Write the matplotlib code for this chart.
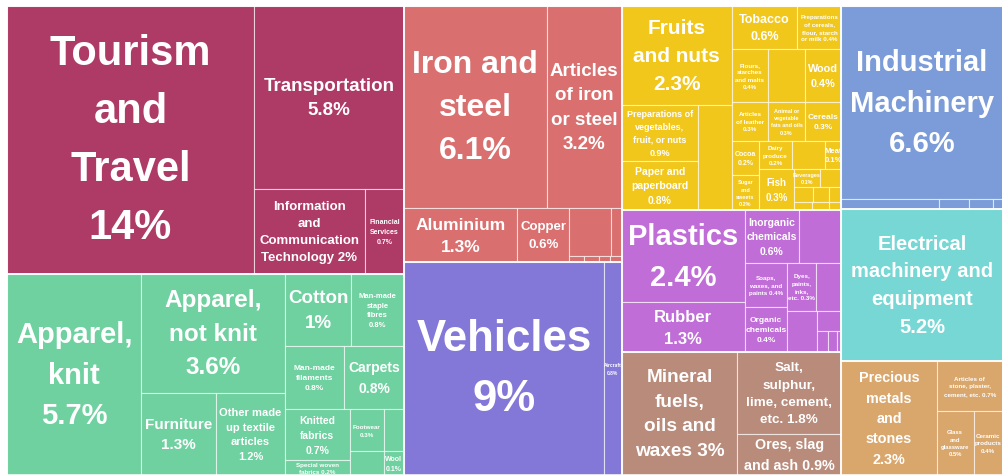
import matplotlib
matplotlib.use("Agg")
import matplotlib.pyplot as plt
from matplotlib.patches import Rectangle

# ---------------- data: share of exports by product, grouped by sector ----------------
services_labels = ["Tourism\nand\nTravel\n14%", "Transportation\n5.8%",
                   "Information\nand\nCommunication\nTechnology 2%", "Financial\nServices\n0.7%"]
services_values = [14.0, 5.8, 2.0, 0.7]

textiles_labels = ["Apparel,\nknit\n5.7%", "Apparel,\nnot knit\n3.6%", "Furniture\n1.3%",
                   "Other made\nup textile\narticles\n1.2%", "Cotton\n1%", "Man-made\nstaple\nfibres\n0.8%",
                   "Man-made\nfilaments\n0.8%", "Carpets\n0.8%", "Knitted\nfabrics\n0.7%",
                   "Special woven\nfabrics 0.2%", "Footwear\n0.3%", "", "", "Wool\n0.1%"]
textiles_values = [5.7, 3.6, 1.3, 1.2, 1.0, 0.8, 0.8, 0.8, 0.7, 0.2, 0.3, 0.18, 0.17, 0.1]

metals_labels = ["Iron and\nsteel\n6.1%", "Articles\nof iron\nor steel\n3.2%", "Aluminium\n1.3%",
                 "Copper\n0.6%", "", "", "", "", "", ""]
metals_values = [6.1, 3.2, 1.3, 0.6, 0.42, 0.11, 0.02, 0.02, 0.015, 0.015]

vehicles_labels = ["Vehicles\n9%", "Aircraft\n0.8%"]
vehicles_values = [9.0, 0.8]

food_labels = ["Fruits\nand nuts\n2.3%", "Preparations of\nvegetables,\nfruit, or nuts\n0.9%",
               "Paper and\npaperboard\n0.8%", "", "Tobacco\n0.6%",
               "Preparations\nof cereals,\nflour, starch\nor milk 0.4%", "Flours,\nstarches\nand malts\n0.4%",
               "", "Wood\n0.4%", "Articles\nof leather\n0.3%", "Animal or\nvegetable\nfats and oils\n0.3%",
               "Cereals\n0.3%", "Cocoa\n0.2%", "Sugar\nand\nsweets\n0.2%", "Dairy\nproduce\n0.2%", "",
               "Meat\n0.1%", "Fish\n0.3%", "Beverages\n0.1%", "", "", "", "", "", "", ""]
food_values = [2.3, 0.9, 0.8, 0.75, 0.6, 0.4, 0.4, 0.42, 0.4, 0.3, 0.3, 0.3, 0.2, 0.2, 0.2, 0.2,
               0.1, 0.3, 0.1, 0.08, 0.06, 0.05, 0.04, 0.03, 0.03, 0.02]

chemicals_labels = ["Plastics\n2.4%", "Rubber\n1.3%", "Inorganic\nchemicals\n0.6%", "",
                    "Soaps,\nwaxes, and\npaints 0.4%", "Organic\nchemicals\n0.4%",
                    "Dyes,\npaints,\ninks,\netc. 0.3%", "", "", "", "", "", ""]
chemicals_values = [2.4, 1.3, 0.6, 0.47, 0.4, 0.4, 0.3, 0.26, 0.26, 0.1, 0.05, 0.04, 0.02]

mineral_labels = ["Mineral\nfuels,\noils and\nwaxes 3%", "Salt,\nsulphur,\nlime, cement,\netc. 1.8%",
                  "Ores, slag\nand ash 0.9%"]
mineral_values = [3.0, 1.8, 0.9]

machinery_labels = ["Industrial\nMachinery\n6.6%", "", "", "", ""]
machinery_values = [6.6, 0.2, 0.06, 0.05, 0.02]

electrical_labels = ["Electrical\nmachinery and\nequipment\n5.2%"]
electrical_values = [5.2]

stone_labels = ["Precious\nmetals\nand\nstones\n2.3%", "Articles of\nstone, plaster,\ncement, etc. 0.7%",
                "Glass\nand\nglassware\n0.5%", "Ceramic\nproducts\n0.4%"]
stone_values = [2.3, 0.7, 0.5, 0.4]

# ---------------- nesting of each sector: 'h' = side by side, 'v' = stacked ----------------
services_tree = ('h', [0, ('v', [1, ('h', [2, 3])])])
textiles_tree = ('h', [0, ('v', [1, ('h', [2, 3])]),
                       ('v', [('h', [4, 5]), ('h', [6, 7]),
                              ('h', [('v', [8, 9]), ('v', [('h', [10, 11]), ('h', [12, 13])])])])])
metals_tree = ('v', [('h', [0, 1]), ('h', [2, 3, ('v', [('h', [4, 5]), ('h', [6, 7, 8, 9])])])])
vehicles_tree = ('h', [0, 1])
food_tree = ('h', [('v', [0, ('h', [('v', [1, 2]), 3])]),
                   ('v', [('h', [4, 5]), ('h', [6, 7, 8]), ('h', [9, 10, 11]),
                          ('h', [('v', [12, 13]),
                                 ('v', [('h', [14, 15, 16]),
                                        ('h', [17, ('v', [('h', [18, 19]), ('h', [20, 21, 22]),
                                                          ('h', [23, 24, 25])])])])])])])
chemicals_tree = ('h', [('v', [0, 1]),
                        ('v', [('h', [2, 3]),
                               ('h', [('v', [4, 5]),
                                      ('v', [('h', [6, 7]), ('h', [8, ('v', [9, ('h', [10, 11, 12])])])])])])])
mineral_tree = ('h', [0, ('v', [1, 2])])
machinery_tree = ('v', [0, ('h', [1, 2, 3, 4])])
electrical_tree = ('h', [0])
stone_tree = ('h', [0, ('v', [1, ('h', [2, 3])])])

# ---------------- styling ----------------
sectors = [
    (services_labels, services_values, services_tree, "#AE3A66", [30, 13.5, 9.5, 5]),
    (textiles_labels, textiles_values, textiles_tree, "#6FD1A0",
     [21, 17.5, 11, 8, 13.5, 5.5, 6, 10, 7.5, 4.5, 4.5, 0, 0, 5]),
    (metals_labels, metals_values, metals_tree, "#D9706F", [23, 13.5, 12.5, 9.5, 0, 0, 0, 0, 0, 0]),
    (vehicles_labels, vehicles_values, vehicles_tree, "#8378D8", [31.5, 3.5]),
    (food_labels, food_values, food_tree, "#F2C71C",
     [15, 6.5, 7.5, 0, 9, 4.5, 4.5, 0, 7.8, 4.5, 4, 6, 5, 4, 4.5, 0, 5.5, 7, 4, 0, 0, 0, 0, 0, 0, 0]),
    (chemicals_labels, chemicals_values, chemicals_tree, "#C06DD8",
     [21, 12, 7.5, 0, 4.5, 6, 4.5, 0, 0, 0, 0, 0, 0]),
    (mineral_labels, mineral_values, mineral_tree, "#B98B7B", [13.7, 9.7, 10.3]),
    (machinery_labels, machinery_values, machinery_tree, "#7B9CD8", [21, 0, 0, 0, 0]),
    (electrical_labels, electrical_values, electrical_tree, "#76D7D4", [14.5]),
    (stone_labels, stone_values, stone_tree, "#D9A66C", [10.4, 4.5, 4.2, 4.5]),
]
# columns of sectors across the chart
top_tree = ('h', [('v', [0, 1]), ('v', [2, 3]), ('v', [4, 5, 6]), ('v', [7, 8, 9])])


def node_total(node, values):
    if isinstance(node, int):
        return values[node]
    return sum(node_total(c, values) for c in node[1])


def slice_layout(node, values, x, y, w, h, out):
    if isinstance(node, int):
        out.append((node, x, y, w, h))
        return
    direction, children = node
    s = node_total(node, values)
    pos = 0.0
    for c in children:
        f = node_total(c, values) / s
        if direction == 'h':
            slice_layout(c, values, x + pos * w, y, f * w, h, out)
        else:
            slice_layout(c, values, x, y + pos * h, w, f * h, out)
        pos += f


W, H = 996.0, 469.0
fig = plt.figure(figsize=(10.03, 4.77), dpi=100)
fig.patch.set_facecolor("white")
ax = fig.add_axes([7 / 1003, 1 / 477, W / 1003, H / 477])
ax.set_xlim(0, W)
ax.set_ylim(H, 0)
ax.axis("off")

sector_totals = [sum(s[1]) for s in sectors]
sector_boxes = []
slice_layout(top_tree, sector_totals, 0, 0, W, H, sector_boxes)

for si, sx, sy, sw, sh in sector_boxes:
    labels, values, tree, color, sizes = sectors[si]
    cells = []
    slice_layout(tree, values, sx, sy, sw, sh, cells)
    for li, x, y, w, h in cells:
        ax.add_patch(Rectangle((x, y), w, h, facecolor=color,
                               edgecolor=(1, 1, 1, 0.6), linewidth=0.8))
        if labels[li] and sizes[li] > 0:
            ax.text(x + w / 2, y + h / 2, labels[li], ha="center", va="center",
                    color="white", fontsize=sizes[li], fontweight="bold",
                    family="Liberation Sans", linespacing=1.58)
    ax.add_patch(Rectangle((sx, sy), sw, sh, facecolor="none",
                           edgecolor=(1, 1, 1, 0.85), linewidth=1.3))

fig.savefig("out.png", dpi=100, facecolor="white")
